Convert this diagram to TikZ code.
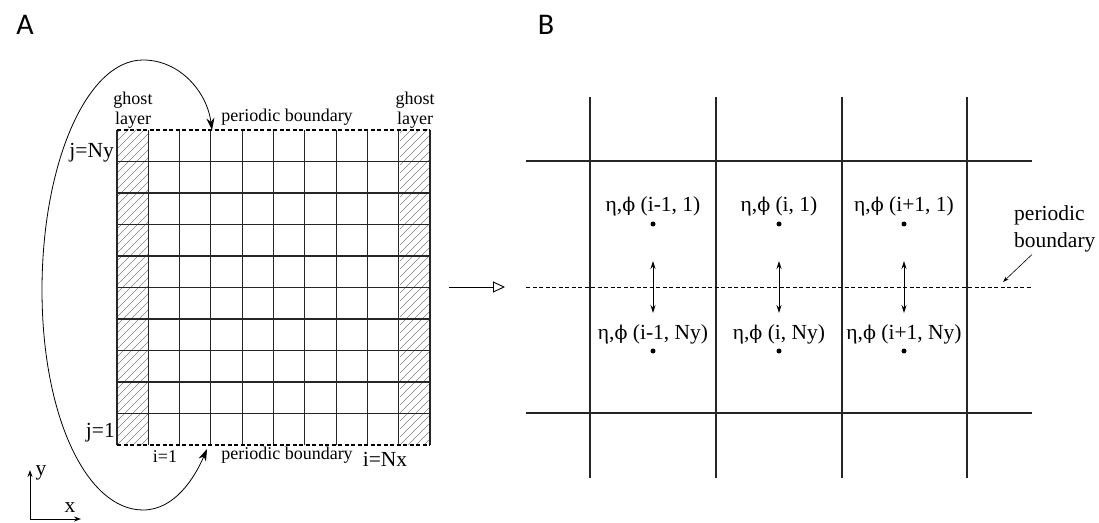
\documentclass[tikz,border=0pt]{standalone}
\usepackage{fontspec}
\setmainfont{Liberation Serif}
\newfontfamily\panelfont{Carlito}
\newfontfamily\phifont{DejaVu Serif}
\newcommand{\etaphi}{η,{\phifont\fontsize{19}{27}\selectfont ϕ}}
\usetikzlibrary{arrows.meta,positioning,calc}

\tikzset{
  gridline/.style={line width=1.1pt, black!85},
  bndline/.style={line width=1.1pt, dash pattern=on 4pt off 2.5pt},
  hatchline/.style={line width=0.5pt, gray},
  smalltxt/.style={font=\fontsize{18}{20}\selectfont, inner sep=0pt},
  bigtxt/.style={font=\fontsize{21.5}{27}\selectfont, inner sep=0pt},
  paneltxt/.style={font=\panelfont\fontsize{30}{32}\selectfont, inner sep=0pt},
  celldot/.style={circle, fill, inner sep=0pt, minimum size=5pt},
  bigtip/.style={line width=0.8pt, {Stealth[length=12pt,width=8pt]}-{Stealth[length=12pt,width=8pt]}},
  celltip/.style={line width=0.9pt, {Stealth[length=8pt,width=5pt]}-{Stealth[length=8pt,width=5pt]}},
}

\begin{document}
\begin{tikzpicture}[x=1pt,y=1pt]
\useasboundingbox (0,0) rectangle (1099,522);

% panel letters
\node[paneltxt] (A) at (25,497) {A};
\node[paneltxt] (B) at (546,497) {B};

% ghost layers
\foreach \gx in {117,400} {
  \begin{scope}
    \clip (\gx,77) rectangle ++(31,315);
    \foreach \k in {-320,-312,...,40}
      \draw[hatchline] (\gx+\k,77) -- ++(320,320);
  \end{scope}
}

% grid A
\foreach \c in {0,...,10}
  \draw[gridline] (117+31.3*\c,77) -- (117+31.3*\c,392);
\foreach \r in {1,...,9}
  \draw[gridline] (117,77+31.5*\r) -- (430,77+31.5*\r);
\draw[bndline] (117,392) -- (430,392);
\draw[bndline] (117,77) -- (430,77);

\node[smalltxt, align=center] (ghostL) at (133,412) {ghost\\layer};
\node[smalltxt, align=center] (ghostR) at (415,412) {ghost\\layer};
\node[smalltxt] (pbtop) at (287,405) {periodic boundary};
\node[bigtxt, anchor=east] (jNy) at (114,369) {j=Ny};
\node[bigtxt, anchor=east] (j1) at (115,89) {j=1};
\node[smalltxt] (i1) at (165,65) {i=1};
\node[smalltxt] (pbbot) at (287,67) {periodic boundary};
\node[bigtxt] (iNx) at (385,63) {i=Nx};

% periodic wrap
\coordinate (ptop) at (212,392);
\coordinate (pbot) at (207,73);
\draw[bigtip] (pbot) .. controls (195,45) and (175,12) .. (143,12)
  .. controls (87,12) and (42,105) .. (42,232)
  .. controls (42,359) and (87,462) .. (143,462)
  .. controls (180,462) and (207,430) .. (ptop);

% axes
\coordinate (org) at (30,3);
\coordinate (yend) at (30,52);
\coordinate (xend) at (81,3);
\draw[-{Stealth[length=7pt,width=5pt]}, line width=0.9pt] (org) -- (yend);
\draw[-{Stealth[length=7pt,width=5pt]}, line width=0.9pt] (org) -- (xend);
\node[bigtxt] (ylab) at (41,49) {y};
\node[bigtxt] (xlab) at (70,14) {x};

% zoom arrow
\coordinate (zfrom) at (449,235);
\coordinate (zto) at (505,235);
\draw[-{Triangle[open,length=12pt,width=11pt]}, line width=0.9pt] (zfrom) -- (zto);

% grid B
\foreach \c in {590,716,842,967}
  \draw[gridline] (\c,44) -- (\c,425);
\foreach \r in {109,361}
  \draw[gridline] (526,\r) -- (1032,\r);
\draw[bndline, line width=0.8pt] (526,235) -- (1032,235);

\foreach \cx/\ci [count=\n] in {653/i-1,779/i,904/i+1} {
  \node[bigtxt] (up\n) at (\cx,316) {\etaphi\ (\ci, 1)};
  \node[celldot] (updot\n) at (\cx,298) {};
  \node[bigtxt] (lo\n) at (\cx,188) {\etaphi\ (\ci, Ny)};
  \node[celldot] (lodot\n) at (\cx,171) {};
  \coordinate (ua\n) at (\cx,261);
  \coordinate (la\n) at (\cx,209);
  \draw[celltip] (ua\n) -- (la\n);
}

\node[bigtxt, align=left, anchor=west] (pbright) at (1014,293) {periodic\\boundary};
\coordinate (pbtip) at (1003,240);
\draw[-{Stealth[length=6pt,width=4pt]}, line width=0.6pt] ([xshift=18pt,yshift=-2pt]pbright.south west) -- (pbtip);
\end{tikzpicture}
\end{document}
